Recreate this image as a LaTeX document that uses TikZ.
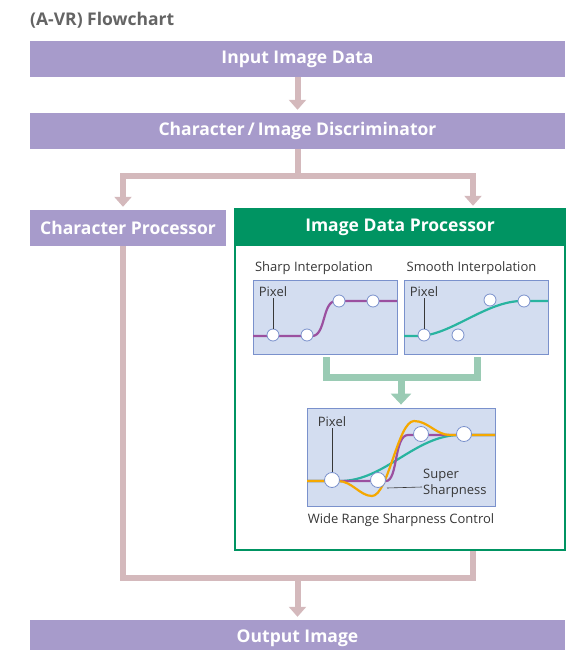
\documentclass[tikz,border=0pt]{standalone}
\usepackage{fontspec}
\setmainfont{Open Sans}
\usepackage{xcolor}
\usetikzlibrary{arrows.meta}

\definecolor{barpurple}{RGB}{167,155,203}
\definecolor{flowpink}{RGB}{212,185,188}
\definecolor{idgreen}{RGB}{0,148,98}
\definecolor{flowgreen}{RGB}{154,203,180}
\definecolor{panelfill}{RGB}{211,221,240}
\definecolor{paneldraw}{RGB}{122,145,204}
\definecolor{curvepurple}{RGB}{155,80,160}
\definecolor{curveteal}{RGB}{40,180,160}
\definecolor{curveorange}{RGB}{245,168,0}
\definecolor{titlegray}{RGB}{100,100,100}
\definecolor{labelgray}{RGB}{55,55,55}

\tikzset{
  bar/.style={rectangle, fill=barpurple, text=white, inner sep=0pt, minimum height=36pt,
    font=\fontsize{17.5}{20}\selectfont\bfseries},
  pinkline/.style={draw=flowpink, line width=6pt},
  pinkflow/.style={pinkline, -{Triangle[width=17pt,length=10pt]}},
  greenline/.style={draw=flowgreen, line width=7pt},
  greenflow/.style={greenline, -{Triangle[width=20pt,length=11pt]}},
  panel/.style={rectangle, draw=paneldraw, fill=panelfill, line width=0.8pt, inner sep=0pt},
  pixel/.style={circle, draw=paneldraw, fill=white, line width=0.8pt, inner sep=0pt, minimum size=12pt},
  smalltext/.style={text=labelgray, inner sep=1pt, font=\fontsize{13}{15}\selectfont},
  leader/.style={draw=labelgray, line width=0.6pt},
  curve/.style={line width=2.2pt}
}

\begin{document}
\begin{tikzpicture}[x=1pt, y=-1pt]
    \useasboundingbox (0,0) rectangle (585,650);

    \node [anchor=west, text=titlegray, inner sep=0pt, font=\fontsize{17.5}{20}\selectfont\bfseries] (title) at (30, 20) {(A-VR) Flowchart};

    \node [bar, minimum width=535pt] (input) at (297.5, 59) {Input Image Data};
    \node [bar, minimum width=535pt] (disc) at (297.5, 131) {Character\,/\,Image Discriminator};
    \node [bar, minimum width=196pt] (cproc) at (128, 228) {Character Processor};
    \node [draw=idgreen, line width=1.5pt, minimum width=330pt, minimum height=341pt, inner sep=0pt] (idp) at (400, 379.5) {};
    \node [rectangle, fill=idgreen, text=white, inner sep=0pt, minimum width=330pt, minimum height=37pt,
      font=\fontsize{17.5}{20}\selectfont\bfseries] (idhead) at (400, 227.5) {Image Data Processor};
    \node [bar, minimum width=535pt] (output) at (297.5, 638) {Output Image};

    \coordinate (split) at (297.5, 176);
    \coordinate (merge) at (297.5, 578);
    \coordinate (gsplit) at (401, 377);

    \draw [pinkflow] (input.south) -- ([yshift=3pt]disc.north);
    \draw [pinkline] (disc.south) -- (split);
    \draw [pinkflow] (split) -| ([shift={(-5pt,3pt)}]cproc.north);
    \draw [pinkflow] (split) -| ([shift={(73pt,3pt)}]idhead.north);
    \draw [pinkline] ([xshift=-5pt]cproc.south) |- (merge) -| ([xshift=73pt]idp.south);
    \draw [pinkflow] (merge) -- ([yshift=3pt]output.north);

    % sharp interpolation
    \node [smalltext] (sharplbl) at (314, 268) {Sharp Interpolation};
    \node [panel, minimum width=144pt, minimum height=74pt] (sharp) at (325, 317) {};
    \draw [curve, curvepurple] (253,336) -- (312,336) .. controls (326,336) and (322,301) .. (336,301) -- (397,301);
    \node [pixel] (s1) at (273, 335) {};
    \node [pixel] (s2) at (307, 335) {};
    \node [pixel] (s3) at (339, 301) {};
    \node [pixel] (s4) at (373, 301) {};
    \node [smalltext] (spix) at (273, 292) {Pixel};
    \draw [leader] (spix) -- (s1);

    % smooth interpolation
    \node [smalltext] (smoothlbl) at (471.5, 268) {Smooth Interpolation};
    \node [panel, minimum width=144pt, minimum height=74pt] (smooth) at (476, 317) {};
    \draw [curve, curveteal] (404,336) -- (418,336) .. controls (450,336) and (486,301) .. (522,301) -- (548,301);
    \node [pixel] (m1) at (424, 335) {};
    \node [pixel] (m2) at (458, 335) {};
    \node [pixel] (m3) at (490, 300) {};
    \node [pixel] (m4) at (524, 301) {};
    \node [smalltext] (mpix) at (424, 292) {Pixel};
    \draw [leader] (mpix) -- (m1);

    % wide range sharpness control
    \node [panel, minimum width=188pt, minimum height=98pt] (wide) at (401, 457) {};
    \draw [curve, curveteal] (307,481) -- (340,481) .. controls (385,481) and (415,435) .. (460,435) -- (495,435);
    \draw [curve, curvepurple] (307,481) -- (386,481) .. controls (398,481) and (394,435) .. (408,435) -- (495,435);
    \draw [curve, curveorange] (307,481) -- (338,481) .. controls (352,481) and (360,496) .. (372,496)
      .. controls (388,496) and (398,421) .. (414,421) .. controls (428,421) and (436,435) .. (450,435) -- (495,435);
    \node [pixel, minimum size=15pt] (w1) at (332, 480) {};
    \node [pixel, minimum size=15pt] (w2) at (378, 480) {};
    \node [pixel, minimum size=15pt] (w3) at (421, 434) {};
    \node [pixel, minimum size=15pt] (w4) at (464, 434) {};
    \node [smalltext] (wpix) at (332, 422) {Pixel};
    \draw [leader] (wpix) -- (w1);
    \node [smalltext, anchor=west, align=left, font=\fontsize{13}{16}\selectfont] (super) at (422, 483) {Super\\Sharpness};
    \coordinate (supertip) at (387, 488);
    \draw [leader] (supertip) -- ([yshift=-4pt]super.west);
    \node [smalltext] (widelbl) at (401, 520) {Wide Range Sharpness Control};

    \draw [greenline] ([shift={(1pt,-3pt)}]sharp.south) |- (gsplit) -| ([shift={(1pt,-3pt)}]smooth.south);
    \draw [greenflow] (gsplit) -- ([yshift=3pt]wide.north);
\end{tikzpicture}
\end{document}
